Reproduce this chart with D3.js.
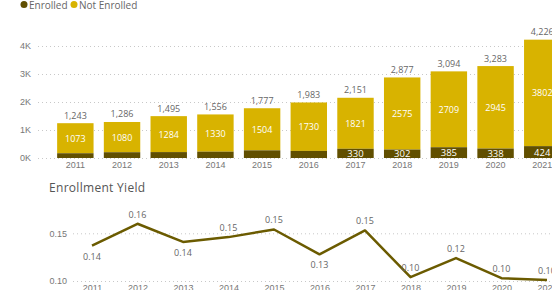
<!DOCTYPE html>
<html>
<head>
<meta charset="utf-8">
<script src="https://cdn.jsdelivr.net/npm/d3@7"></script>
<style>
  body { margin: 0; background: #fff; }
  svg { display: block; font-family: "Open Sans", "Segoe UI", sans-serif; }
</style>
</head>
<body>
<svg width="552" height="290"></svg>
<script>
const years = ['2011', '2012', '2013', '2014', '2015', '2016', '2017', '2018', '2019', '2020', '2021'];
const enrolled = [170, 206, 211, 226, 273, 253, 330, 302, 385, 338, 424];
const notEnrolled = [1073, 1080, 1284, 1330, 1504, 1730, 1821, 2575, 2709, 2945, 3802];
const yieldRate = [0.137, 0.160, 0.141, 0.146, 0.154, 0.128, 0.153, 0.104, 0.124, 0.103, 0.101];
const barTicks = [0, 1000, 2000, 3000, 4000];
const yieldTicks = [0.10, 0.15];

const colEnrolled = '#614f00';
const colNot = '#d8b300';
const colLine = '#6b5b00';
const grey = '#777';

const svg = d3.select('svg');

// legend
const legend = svg.append('g').attr('class', 'legend');
[['Enrolled', colEnrolled, 24], ['Not Enrolled', colNot, 74]].forEach(([name, c, x]) => {
  legend.append('circle').attr('cx', x).attr('cy', 4.5).attr('r', 3.5).attr('fill', c);
  legend.append('text').attr('x', x + 5).attr('y', 8.5)
    .attr('font-size', 10).attr('fill', '#666').text(name);
});

// bar chart
const rows = years.map((y, i) => ({ year: y, enr: enrolled[i], not: notEnrolled[i], total: enrolled[i] + notEnrolled[i] }));

const x = d3.scaleBand().domain(years).range([52, 565.6]).paddingInner(0.22).paddingOuter(0.11);
const y = d3.scaleLinear().domain([0, 4000]).range([158, 46]);

const grid = svg.append('g').attr('class', 'grid');
grid.selectAll('line').data(barTicks).enter().append('line')
  .attr('x1', 38).attr('x2', 552)
  .attr('y1', d => y(d) + 0.5).attr('y2', d => y(d) + 0.5)
  .attr('stroke', '#c8c8c8').attr('stroke-dasharray', '1,3');

const yAxis = svg.append('g').attr('transform', 'translate(31,0)')
  .call(d3.axisLeft(y).tickValues(barTicks).tickSize(0).tickPadding(0).tickFormat(d => (d / 1000) + 'K'));
yAxis.select('.domain').remove();
yAxis.selectAll('text').attr('fill', grey).attr('font-size', 9);

const xAxis = svg.append('g').attr('transform', 'translate(0,162)')
  .call(d3.axisBottom(x).tickSize(0).tickPadding(0));
xAxis.select('.domain').remove();
xAxis.selectAll('text').attr('fill', grey).attr('font-size', 9);

const bars = svg.append('g').selectAll('g').data(rows).enter().append('g');
bars.append('rect')
  .attr('x', d => x(d.year)).attr('width', x.bandwidth())
  .attr('y', d => y(d.total)).attr('height', d => y(d.enr) - y(d.total))
  .attr('fill', colNot);
bars.append('rect')
  .attr('x', d => x(d.year)).attr('width', x.bandwidth())
  .attr('y', d => y(d.enr)).attr('height', d => y(0) - y(d.enr))
  .attr('fill', colEnrolled);

bars.append('text')
  .attr('x', d => x(d.year) + x.bandwidth() / 2)
  .attr('y', d => (y(d.total) + y(d.enr)) / 2 + 3.5)
  .attr('text-anchor', 'middle').attr('font-size', 9).attr('fill', '#fff')
  .text(d => d.not);
bars.filter(d => y(0) - y(d.enr) > 8).append('text')
  .attr('x', d => x(d.year) + x.bandwidth() / 2)
  .attr('y', d => (y(0) + y(d.enr)) / 2 + 3.5)
  .attr('text-anchor', 'middle').attr('font-size', 9.5).attr('fill', '#fff')
  .text(d => d.enr);
bars.append('text')
  .attr('x', d => x(d.year) + x.bandwidth() / 2)
  .attr('y', d => y(d.total) - 4.5)
  .attr('text-anchor', 'middle').attr('font-size', 9).attr('fill', '#666')
  .text(d => d3.format(',')(d.total));

// yield line chart
svg.append('text').attr('x', 49).attr('y', 192)
  .attr('font-size', 12).attr('font-weight', 500).attr('fill', '#555')
  .attr('letter-spacing', 0.3)
  .text('Enrollment Yield');

const lx = d3.scalePoint().domain(years).range([92, 547]);
const ly = d3.scaleLinear().domain([0.10, 0.15]).range([281, 233.3]);

svg.append('g').selectAll('line').data(yieldTicks).enter().append('line')
  .attr('x1', 73).attr('x2', 552)
  .attr('y1', d => ly(d) + 0.5).attr('y2', d => ly(d) + 0.5)
  .attr('stroke', '#c8c8c8').attr('stroke-dasharray', '1,3');

const lyAxis = svg.append('g').attr('transform', 'translate(67,0)')
  .call(d3.axisLeft(ly).tickValues(yieldTicks).tickSize(0).tickPadding(0).tickFormat(d3.format('.2f')));
lyAxis.select('.domain').remove();
lyAxis.selectAll('text').attr('fill', grey).attr('font-size', 9);

const lxAxis = svg.append('g').attr('transform', 'translate(0,285)')
  .call(d3.axisBottom(lx).tickSize(0).tickPadding(0));
lxAxis.select('.domain').remove();
lxAxis.selectAll('text').attr('fill', grey).attr('font-size', 9);

const pts = years.map((yr, i) => ({ year: yr, v: yieldRate[i], i }));
svg.append('path').datum(pts)
  .attr('fill', 'none').attr('stroke', colLine).attr('stroke-width', 2.5)
  .attr('stroke-linejoin', 'round')
  .attr('d', d3.line().x(d => lx(d.year)).y(d => ly(d.v)));

// labels go below a dip, unless it sits too close to the bottom
const below = d => {
  const prev = yieldRate[d.i - 1], next = yieldRate[d.i + 1];
  const dip = (prev === undefined || d.v <= prev) && (next === undefined || d.v <= next);
  return dip && d.v > 0.11;
};
svg.append('g').selectAll('text').data(pts).enter().append('text')
  .attr('x', d => lx(d.year))
  .attr('y', d => below(d) ? ly(d.v) + 14 : ly(d.v) - 6)
  .attr('text-anchor', 'middle').attr('font-size', 9).attr('fill', '#666')
  .text(d => d3.format('.2f')(d.v));
</script>
</body>
</html>
